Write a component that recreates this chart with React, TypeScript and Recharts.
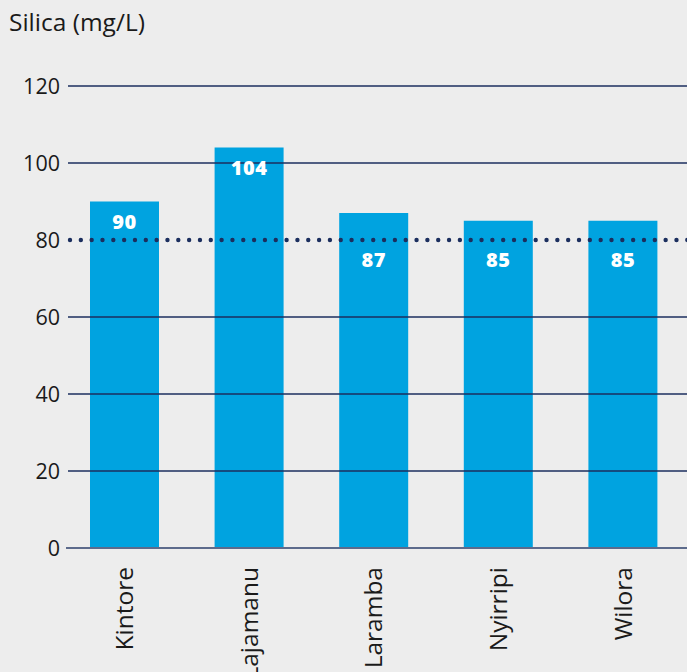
import React from "react";
import { BarChart, Bar, XAxis, YAxis, ReferenceLine, LabelList } from "recharts";

// Silica concentration by community (mg/L)
const sites = ["Kintore", "Lajamanu", "Laramba", "Nyirripi", "Wilora"];
const silicaValues = [90, 104, 87, 85, 85];
const yTicks = [0, 20, 40, 60, 80, 100, 120];
const gridValues = [0, 20, 40, 60, 100, 120];
const guidelineValue = 80;

const data = sites.map((site, i) => ({ site, silica: silicaValues[i] }));

const BG = "#ededed";
const BAR = "#00a3e0";
const NAVY = "#1b2e5e";
const FONT = "'Open Sans', sans-serif";

const GridLine = (props: any) => {
  const { x1, x2, y1, zero } = props;
  return (
    <line
      x1={x1 + (zero ? 4 : 6)}
      x2={x2 + 2}
      y1={y1}
      y2={y1}
      stroke={zero ? "#5d6b8c" : NAVY}
      strokeWidth={zero ? 2 : 1.3}
    />
  );
};

const DottedLine = (props: any) => {
  const { x1, x2, y1 } = props;
  return (
    <line
      x1={x1 + 8}
      x2={x2 + 4}
      y1={y1}
      y2={y1}
      stroke={NAVY}
      strokeWidth={4.4}
      strokeLinecap="round"
      strokeDasharray="0 10.83"
    />
  );
};

const YTick = (props: any) => {
  const { x, y, payload } = props;
  return (
    <text x={x} y={y} dy="0.36em" textAnchor="end" fill="#1a1a1a" fontSize={21.5} fontFamily={FONT}>
      {payload.value}
    </text>
  );
};

const XTick = (props: any) => {
  const { x, y, payload } = props;
  return (
    <text
      x={x}
      y={y}
      transform={`rotate(-90, ${x}, ${y})`}
      dy="0.36em"
      textAnchor="end"
      fill="#1a1a1a"
      fontSize={24.5}
      fontFamily={FONT}
    >
      {payload.value}
    </text>
  );
};

// Value label inside the bar; pushed below the guideline when the bar top sits close to it
const ValueLabel = (props: any) => {
  const { x, y, width, height, value } = props;
  const bottom = y + height;
  const guideY = bottom - (guidelineValue * height) / value;
  let cy = y + 20;
  if (guideY - y < 32) cy = guideY + 20;
  return (
    <text
      x={x + width / 2}
      y={cy}
      dy="0.36em"
      textAnchor="middle"
      fill="#ffffff"
      fontSize={20}
      fontWeight={800}
      fontFamily={FONT}
      letterSpacing={0.5}
    >
      {value}
    </text>
  );
};

export default function App() {
  return (
    <div style={{ position: "fixed", left: 0, top: 0, width: 687, height: 672, background: BG }}>
      <BarChart
        width={687}
        height={672}
        data={data}
        margin={{ top: 86, right: 2, bottom: 0, left: 0 }}
        barCategoryGap={0}
      >
        <text x={9} y={31} fill="#1a1a1a" fontSize={24.5} fontFamily={FONT}>
          Silica (mg/L)
        </text>
        <YAxis
          type="number"
          domain={[0, 120]}
          ticks={yTicks}
          width={62}
          axisLine={false}
          tickLine={false}
          tickSize={0}
          tickMargin={2}
          tick={<YTick />}
          interval={0}
        />
        <XAxis
          dataKey="site"
          height={124}
          axisLine={false}
          tickLine={false}
          tickSize={0}
          tickMargin={19}
          tick={<XTick />}
          interval={0}
        />
        {gridValues.map((v) => (
          <ReferenceLine key={v} y={v} shape={(p: any) => <GridLine {...p} zero={v === 0} />} />
        ))}
        <Bar dataKey="silica" fill={BAR} barSize={69} isAnimationActive={false}>
          <LabelList dataKey="silica" content={<ValueLabel />} />
        </Bar>
        <ReferenceLine y={guidelineValue} shape={<DottedLine />} ifOverflow="extendDomain" />
      </BarChart>
    </div>
  );
}
